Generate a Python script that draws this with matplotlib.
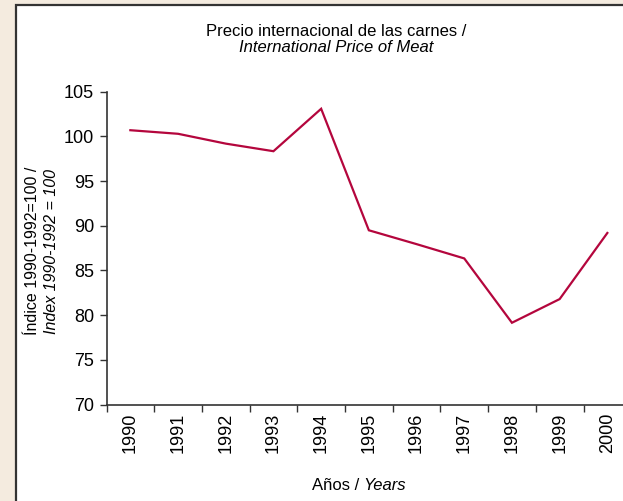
import matplotlib
matplotlib.use("Agg")
import matplotlib.pyplot as plt
from matplotlib.patches import Rectangle

years = ["1990", "1991", "1992", "1993", "1994", "1995", "1996", "1997", "1998", "1999", "2000"]
price_index = [100.7, 100.3, 99.2, 98.35, 103.1, 89.5, 87.95, 86.35, 79.15, 81.8, 89.2]
y_ticks = [70, 75, 80, 85, 90, 95, 100, 105]

plt.rcParams["font.family"] = ["Liberation Sans", "DejaVu Sans"]

W, H = 623, 501
fig = plt.figure(figsize=(W / 100, H / 100), dpi=100)
fig.patch.set_facecolor("#f4ebdf")

# white panel with dark frame
panel = Rectangle((16 / W, -0.1), 1.2, 1 - 5 / H + 0.1, transform=fig.transFigure,
                  facecolor="white", edgecolor="#333333", linewidth=1.6, zorder=-5)
fig.patches.append(panel)

x0, x1 = 106.5, 106.5 + 11 * 47.7
y_top, y_bot = 91.8, 404.5
ax = fig.add_axes([x0 / W, 1 - y_bot / H, (x1 - x0) / W, (y_bot - y_top) / H])
ax.set_facecolor("none")
ax.set_zorder(2)

xs = list(range(len(years)))
ax.plot(xs, price_index, color="#b4063d", linewidth=1.6, solid_joinstyle="miter")

ax.set_xlim(-0.5, len(years) - 0.5)
ax.set_ylim(70, 105)
ax.set_yticks(y_ticks)
ax.set_yticklabels([str(v) for v in y_ticks], fontsize=13)

ax.set_xticks([i - 0.5 for i in range(len(years))])
ax.set_xticklabels([])
ax.set_xticks(xs, minor=True)
ax.set_xticklabels(years, minor=True, rotation=90, fontsize=13)
ax.tick_params(axis="x", which="minor", length=0, pad=6)
ax.tick_params(axis="x", which="major", length=5, width=1.0, color="#333333")
ax.tick_params(axis="y", length=5, width=1.0, color="#333333", pad=4)

for side in ("top", "right"):
    ax.spines[side].set_visible(False)
for side in ("left", "bottom"):
    ax.spines[side].set_color("#333333")
    ax.spines[side].set_linewidth(1.2)

# titles and axis labels
fig.text(336 / W, 1 - 32 / H, "Precio internacional de las carnes /",
         ha="center", va="center", fontsize=12)
fig.text(336 / W, 1 - 47 / H, "International Price of Meat",
         ha="center", va="center", fontsize=12, style="italic")
fig.text(33 / W, 1 - 251 / H, "Índice 1990-1992=100 /", rotation=90,
         ha="center", va="center", fontsize=11.5)
fig.text(52 / W, 1 - 251 / H, "Index 1990-1992 = 100", rotation=90,
         ha="center", va="center", fontsize=11.5, style="italic")
fig.text(363.5 / W, 1 - 485 / H, "Años / ", ha="right", va="center", fontsize=12)
fig.text(363.5 / W, 1 - 485 / H, "Years", ha="left", va="center", fontsize=12, style="italic")

fig.savefig("out.png", dpi=100, facecolor=fig.get_facecolor())
